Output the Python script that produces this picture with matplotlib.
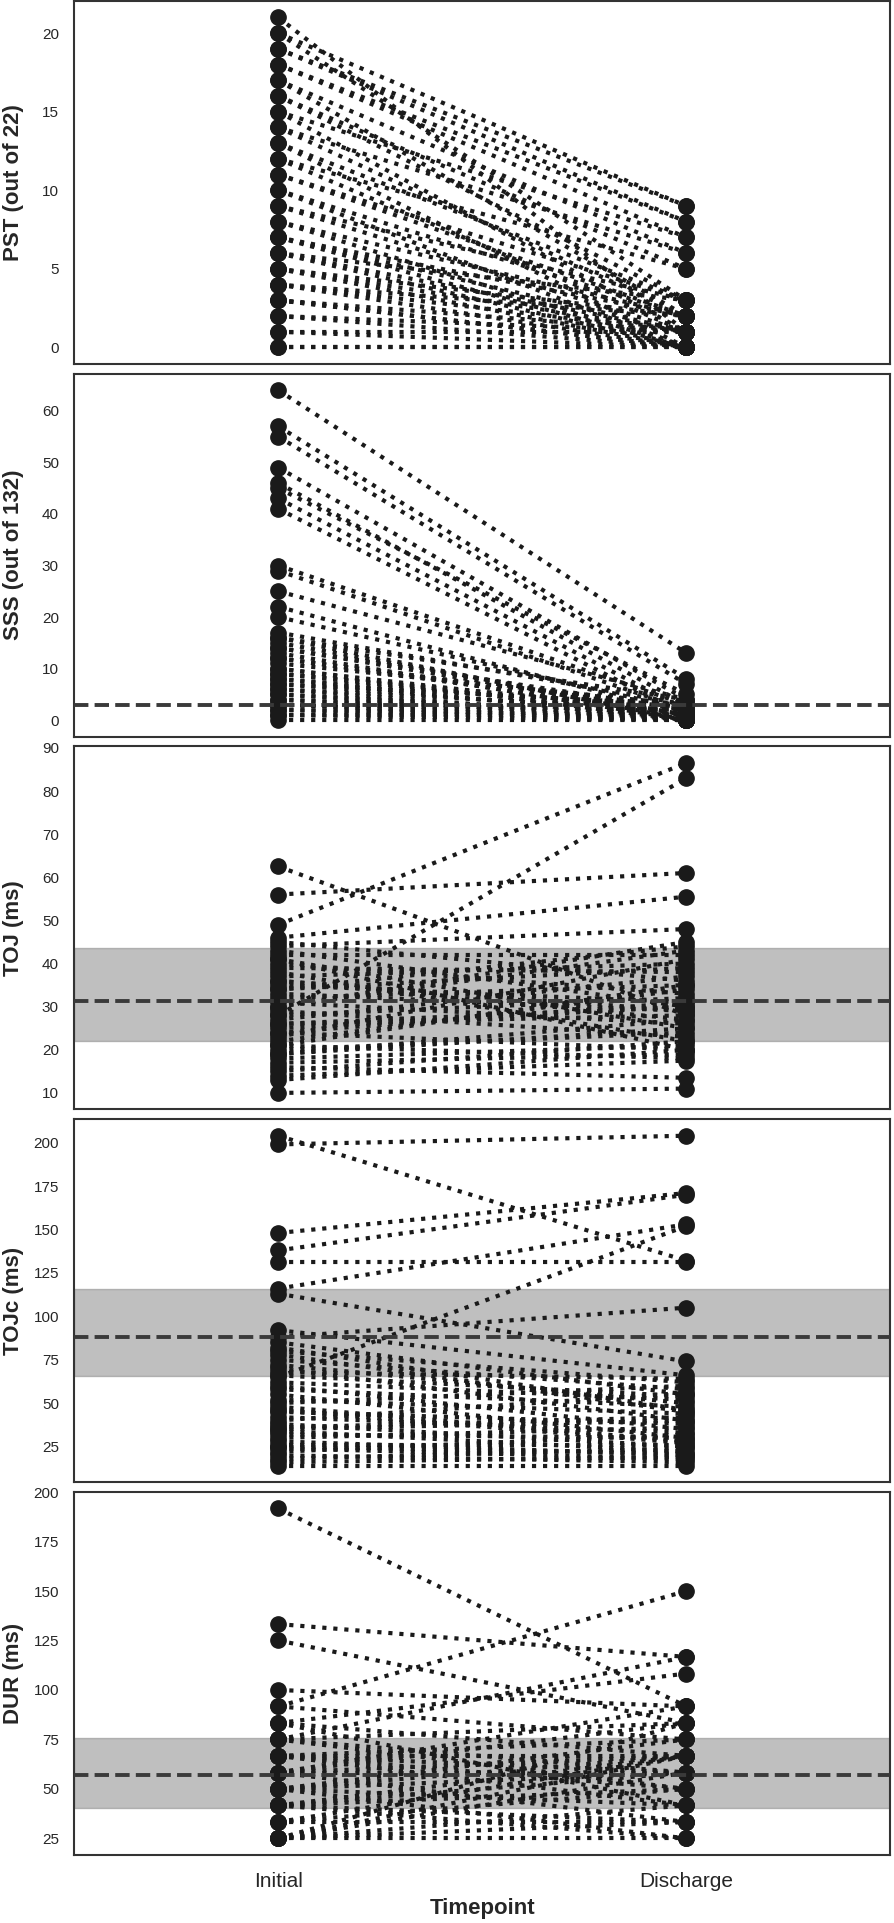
import numpy as np
import matplotlib
matplotlib.use("Agg")
import matplotlib.pyplot as plt
import seaborn as sns

sns.set_style("white")
plt.rcParams["font.family"] = ["Liberation Sans", "DejaVu Sans"]

timepoints = ["Initial", "Discharge"]

# PST (out of 22)
pst_initial = [21, 20, 20, 19, 19, 18, 18, 17, 17, 16, 16, 15, 15, 14, 14, 13, 13, 12, 12, 11,
               11, 10, 10, 9, 9, 8, 8, 7, 7, 7, 6, 6, 6, 5, 5, 5, 4, 4, 4, 3, 3, 3, 2, 2, 1, 1, 0, 0]
pst_discharge = [1, 9, 3, 9, 8, 8, 7, 6, 2, 5, 3, 7, 1, 6, 2, 3, 0, 5, 1, 2,
                 3, 0, 2, 1, 3, 0, 2, 1, 2, 0, 1, 0, 3, 0, 1, 2, 0, 1, 2, 0, 1, 0, 0, 1, 0, 1, 0, 0]

# SSS (out of 132)
sss_initial = [64, 57, 55, 49, 46, 45, 43, 41, 30, 29, 25, 22, 20, 17, 16, 15, 14, 13, 12, 11,
               10, 9, 8, 8, 7, 6, 6, 5, 5, 4, 4, 3, 3, 2, 2, 1, 1, 0, 16, 12, 10, 7, 3, 14, 9]
sss_discharge = [13, 8, 7, 4, 3, 5, 2, 1, 3, 2, 4, 1, 2, 3, 0, 1, 2, 0, 1, 3,
                 0, 1, 2, 0, 1, 0, 2, 0, 1, 0, 1, 0, 2, 0, 1, 0, 1, 0, 4, 2, 1, 3, 0, 1, 2]
sss_ref = 3

# TOJ (ms)
toj_initial = [62.5, 56, 49, 28, 46, 45, 44, 43, 42, 41, 40, 39, 38, 37, 36, 35, 34, 33, 32, 31,
               30, 29, 28, 27, 26, 25, 24, 23, 22, 21, 20, 19, 18, 17, 16, 15, 14, 13, 10, 36,
               30, 24, 19, 41, 34, 26, 21]
toj_discharge = [28, 61, 86.5, 83, 55.5, 36, 48, 30, 42, 25, 33, 38, 22, 40, 27, 31, 44, 29, 35, 26,
                 45, 23, 32, 37, 28, 30, 20, 41, 34, 18, 24, 27, 21, 19, 13.5, 22, 17.5, 20, 11, 29,
                 43, 31, 25, 20, 39, 30, 35]
toj_ref = 31.4
toj_band = (22.1, 43.7)

# TOJc (ms)
tojc_initial = [204, 199, 148, 138, 131, 116, 113, 88, 65, 92, 85, 80, 78, 75, 72, 70, 68, 62, 60, 58,
                55, 52, 50, 48, 45, 42, 40, 38, 36, 34, 32, 30, 28, 26, 24, 22, 20, 18, 16, 14,
                82, 66, 46, 35, 25]
tojc_discharge = [132, 204, 171, 170, 131, 153, 74, 105, 152, 66, 55, 62, 45, 58, 50, 40, 64, 52, 35, 48,
                  30, 44, 60, 28, 38, 33, 56, 25, 42, 22, 30, 36, 20, 26, 18, 32, 16, 24, 19, 14,
                  46, 54, 27, 40, 21]
tojc_ref = 88
tojc_band = (65.5, 115.5)

# DUR (ms)
dur_initial = [191.7, 133.3, 125, 100, 91.7, 91.7, 83.3, 83.3, 75, 75, 75, 66.7, 66.7, 66.7, 58.3, 58.3,
               58.3, 50, 50, 50, 50, 41.7, 41.7, 41.7, 33.3, 33.3, 25, 25, 25, 25, 25, 33.3, 58.3,
               66.7, 75, 41.7, 50, 58.3, 66.7, 83.3, 25, 41.7]
dur_discharge = [91.7, 116.7, 83.3, 91.7, 150, 75, 108.3, 66.7, 116.7, 58.3, 83.3, 50, 75, 41.7, 66.7,
                 33.3, 58.3, 25, 66.7, 41.7, 75, 58.3, 25, 50, 66.7, 33.3, 25, 83.3, 58.3, 66.7, 41.7,
                 50, 91.7, 66.7, 50, 33.3, 58.3, 83.3, 58.3, 41.7, 33.3, 66.7]
dur_ref = 57
dur_band = (40.5, 75.9)

panels = [
    ("PST (out of 22)", pst_initial, pst_discharge, None, None, [0, 5, 10, 15, 20]),
    ("SSS (out of 132)", sss_initial, sss_discharge, sss_ref, None, [0, 10, 20, 30, 40, 50, 60]),
    ("TOJ (ms)", toj_initial, toj_discharge, toj_ref, toj_band, list(range(10, 91, 10))),
    ("TOJc (ms)", tojc_initial, tojc_discharge, tojc_ref, tojc_band, list(range(25, 201, 25))),
    ("DUR (ms)", dur_initial, dur_discharge, dur_ref, dur_band, list(range(25, 201, 25))),
]

fig, axes = plt.subplots(5, 1, figsize=(8.94, 19.23), dpi=100, sharex=True)
fig.subplots_adjust(left=0.083, right=0.996, top=0.9995, bottom=0.0354, hspace=0.027)

for ax, (label, init, disc, ref, band, ticks) in zip(axes, panels):
    if band is not None:
        ax.axhspan(band[0], band[1], color="gray", alpha=0.5, lw=1, zorder=0)
    for a, b in zip(init, disc):
        ax.plot([0, 1], [a, b], ls=":", lw=3, color="#1a1a1a",
                marker="o", markersize=11, zorder=2)
    if ref is not None:
        ax.axhline(ref, ls="--", lw=2.8, color="#3a3a3a", zorder=4)
    ax.set_yticks(ticks)
    ax.set_ylabel(label, fontsize=16, fontweight="bold", color=".15")
    ax.yaxis.set_label_coords(-0.062, 0.5)
    ax.tick_params(axis="y", length=0, pad=11, labelsize=11, labelcolor=".15")
    ax.tick_params(axis="x", length=0, pad=12, labelsize=15, labelcolor=".15")
    for s in ax.spines.values():
        s.set_linewidth(1.5)
        s.set_color(".2")

axes[-1].set_xlim(-0.5, 1.5)
axes[-1].set_xticks([0, 1])
axes[-1].set_xticklabels(timepoints)
axes[-1].set_xlabel("Timepoint", fontsize=16, fontweight="bold", color=".15", labelpad=5)

fig.savefig("out.png", dpi=100)
